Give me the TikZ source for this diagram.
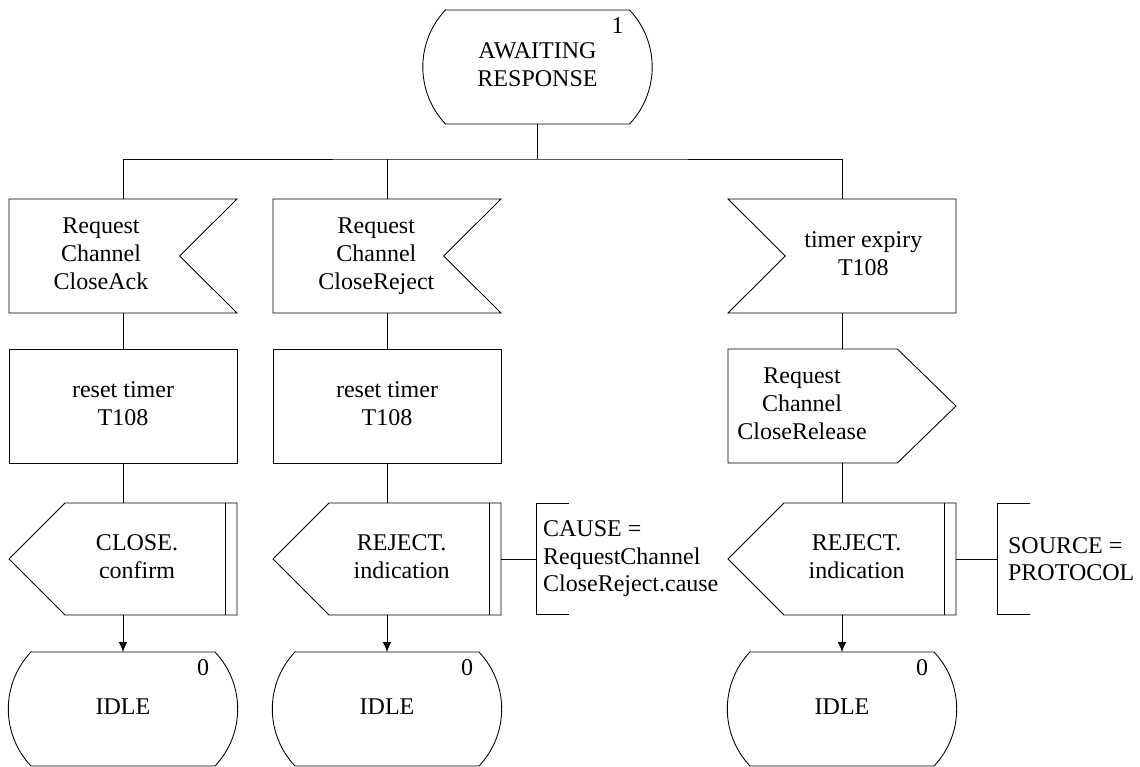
\documentclass[tikz,border=0pt]{standalone}
\usepackage{fontspec}
\setmainfont{Liberation Serif}
\usetikzlibrary{arrows.meta}

\newcommand\sdltext[2][0pt]{\hspace*{#1}\begin{tabular}{@{}c@{}}#2\end{tabular}}

\tikzset{
  base/.style={inner sep=0pt, outer sep=0pt, minimum width=171pt,
               minimum height=85.5pt, font=\rmfamily\fontsize{18}{20.7}\selectfont},
  sdlstate/.style={base, minimum width=172pt},
  sig/.style={base},
  task/.style={base, draw},
  outsig/.style={base, minimum height=84pt},
  note/.style={anchor=west, inner xsep=5pt, inner ysep=0pt, minimum height=82.5pt,
               align=left, font=\rmfamily\fontsize{18}{20.7}\selectfont},
  num/.style={anchor=north east, inner sep=0pt, font=\rmfamily\fontsize{18}{20.7}\selectfont}
}

\begin{document}
\begin{tikzpicture}[x=0.75pt,y=0.75pt,line width=0.65pt,>={Latex[length=7.5pt,width=6.5pt]}]
  \useasboundingbox (0,0) rectangle (1140,-767);

  \node[sdlstate] (aw) at (537.5,-67) {\sdltext{AWAITING\\RESPONSE}};
  \node[num] (aw-n) at ([shift={(-21pt,-5.5pt)}]aw.north east) {1};
  \coordinate (br) at (537.5,-159);

  \node[sig] (in1) at (123,-256) {\sdltext[-33pt]{Request\\Channel\\CloseAck}};
  \node[sig] (in2) at (387,-256) {\sdltext[-16pt]{Request\\Channel\\CloseReject}};
  \node[sig] (in3) at (842,-256) {\sdltext[32pt]{timer expiry\\T108}};

  \node[task] (t1) at (123,-406) {\sdltext{reset timer\\T108}};
  \node[task] (t2) at (387,-406) {\sdltext{reset timer\\T108}};
  \node[sig] (r3) at (842,-406) {\sdltext[-60pt]{Request\\Channel\\CloseRelease}};

  \node[outsig] (o1) at (123,-559) {\sdltext[21pt]{CLOSE.\\confirm}};
  \node[outsig] (o2) at (387,-559) {\sdltext[22pt]{REJECT.\\indication}};
  \node[outsig] (o3) at (842,-559) {\sdltext[22pt]{REJECT.\\indication}};

  \node[note] (c2) at (536,-559) {CAUSE =\\RequestChannel\\CloseReject.cause};
  \node[note,inner xsep=8pt] (c3) at (997,-559) {SOURCE =\\PROTOCOL};

  \node[sdlstate] (s1) at (123,-709) {\sdltext{IDLE}};
  \node[sdlstate] (s2) at (387,-709) {\sdltext{IDLE}};
  \node[sdlstate] (s3) at (842,-709) {\sdltext{IDLE}};
  \node[num] (s1-n) at ([shift={(-21pt,-5.5pt)}]s1.north east) {0};
  \node[num] (s2-n) at ([shift={(-21pt,-5.5pt)}]s2.north east) {0};
  \node[num] (s3-n) at ([shift={(-21pt,-5.5pt)}]s3.north east) {0};

  \foreach \n in {aw,s1,s2,s3}
    \draw ([xshift=17pt]\n.north west) -- ([xshift=-17pt]\n.north east)
      arc[start angle=43.4,end angle=-43.4,radius=62.25pt]
      -- ([xshift=17pt]\n.south west)
      arc[start angle=223.4,end angle=136.6,radius=62.25pt] -- cycle;
  \foreach \n in {in1,in2}
    \draw (\n.north west) -- (\n.north east) -- ([xshift=-43pt]\n.east)
      -- (\n.south east) -- (\n.south west) -- cycle;
  \draw (in3.north west) -- (in3.north east) -- (in3.south east)
    -- (in3.south west) -- ([xshift=43pt]in3.west) -- cycle;
  \draw (r3.north west) -- ([xshift=-44pt]r3.north east) -- (r3.east)
    -- ([xshift=-44pt]r3.south east) -- (r3.south west) -- cycle;
  \foreach \n in {o1,o2,o3}{
    \draw ([xshift=42pt]\n.north west) -- (\n.north east) -- (\n.south east)
      -- ([xshift=42pt]\n.south west) -- (\n.west) -- cycle;
    \draw ([xshift=-9pt]\n.north east) -- ([xshift=-9pt]\n.south east);
  }
  \foreach \n in {c2,c3}
    \draw ([xshift=25pt]\n.north west) -- (\n.north west) -- (\n.south west)
      -- ([xshift=25pt]\n.south west);

  \draw (aw.south) -- (br);
  \draw (in1.north) |- (br) -| (in3.north);
  \draw (in2.north) -- (in2.north |- br);
  \draw (in1.south) -- (t1.north);
  \draw (in2.south) -- (t2.north);
  \draw (in3.south) -- (r3.north);
  \draw (t1.south) -- (o1.north);
  \draw (t2.south) -- (o2.north);
  \draw (r3.south) -- (o3.north);
  \draw[->] (o1.south) -- (s1.north);
  \draw[->] (o2.south) -- (s2.north);
  \draw[->] (o3.south) -- (s3.north);
  \draw (o2.east) -- (c2.west);
  \draw (o3.east) -- (c3.west);
\end{tikzpicture}
\end{document}
